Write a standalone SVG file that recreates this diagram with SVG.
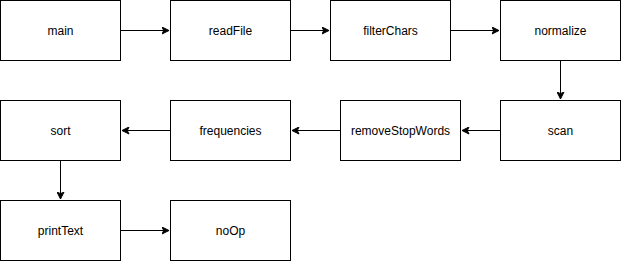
<svg xmlns="http://www.w3.org/2000/svg" width="621" height="261" viewBox="0 0 621 261">
  <style>
    .box { fill: #ffffff; stroke: #000000; stroke-width: 1; }
    .lbl { font-family: "Liberation Sans", Arial, Helvetica, sans-serif; font-size: 12px; fill: #000000; text-anchor: middle; dominant-baseline: central; }
    .edge { fill: none; stroke: #000000; stroke-width: 1; }
  </style>
  <defs>
    <marker id="arrow" viewBox="0 0 8 8" refX="7.5" refY="4" markerWidth="8" markerHeight="8" markerUnits="userSpaceOnUse" orient="auto">
      <path d="M7.5,4 L0.5,0.5 L2.2,4 L0.5,7.5 Z" fill="#000000" stroke="#000000" stroke-width="1" stroke-linejoin="miter"/>
    </marker>
  </defs>
  <rect width="621" height="261" fill="#ffffff"/>

  <g id="connectors">
    <path class="edge" d="M120.5,30.5 H169" marker-end="url(#arrow)"/>
    <path class="edge" d="M290.5,30.5 H329" marker-end="url(#arrow)"/>
    <path class="edge" d="M450.5,30.5 H499" marker-end="url(#arrow)"/>
    <path class="edge" d="M560.5,60.5 V99" marker-end="url(#arrow)"/>
    <path class="edge" d="M500.5,130.5 H462" marker-end="url(#arrow)"/>
    <path class="edge" d="M340.5,130.5 H292" marker-end="url(#arrow)"/>
    <path class="edge" d="M170.5,130.5 H122" marker-end="url(#arrow)"/>
    <path class="edge" d="M60.5,160.5 V199" marker-end="url(#arrow)"/>
    <path class="edge" d="M120.5,230.5 H169" marker-end="url(#arrow)"/>
  </g>

  <g id="main"><rect class="box" x="0.5" y="0.5" width="120" height="60"/><text class="lbl" x="60.5" y="30.5">main</text></g>
  <g id="readFile"><rect class="box" x="170.5" y="0.5" width="120" height="60"/><text class="lbl" x="230.5" y="30.5">readFile</text></g>
  <g id="filterChars"><rect class="box" x="330.5" y="0.5" width="120" height="60"/><text class="lbl" x="390.5" y="30.5">filterChars</text></g>
  <g id="normalize"><rect class="box" x="500.5" y="0.5" width="120" height="60"/><text class="lbl" x="560.5" y="30.5">normalize</text></g>

  <g id="scan"><rect class="box" x="500.5" y="100.5" width="120" height="60"/><text class="lbl" x="560.5" y="130.5">scan</text></g>
  <g id="removeStopWords"><rect class="box" x="340.5" y="100.5" width="120" height="60"/><text class="lbl" x="400.5" y="130.5">removeStopWords</text></g>
  <g id="frequencies"><rect class="box" x="170.5" y="100.5" width="120" height="60"/><text class="lbl" x="230.5" y="130.5">frequencies</text></g>
  <g id="sort"><rect class="box" x="0.5" y="100.5" width="120" height="60"/><text class="lbl" x="60.5" y="130.5">sort</text></g>

  <g id="printText"><rect class="box" x="0.5" y="200.5" width="120" height="60"/><text class="lbl" x="60.5" y="230.5">printText</text></g>
  <g id="noOp"><rect class="box" x="170.5" y="200.5" width="120" height="60"/><text class="lbl" x="230.5" y="230.5">noOp</text></g>
</svg>
